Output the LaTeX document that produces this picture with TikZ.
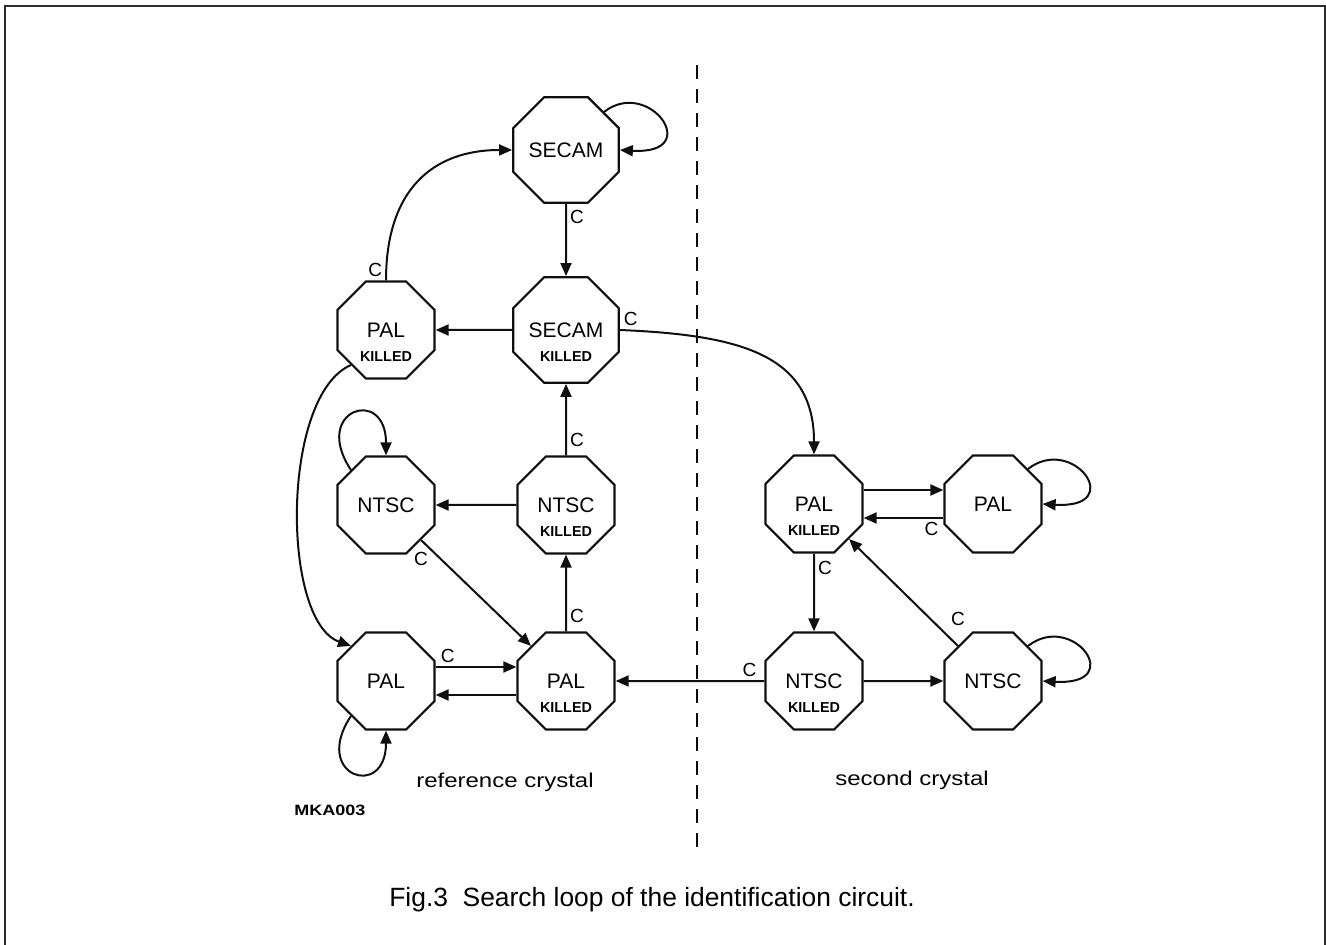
\documentclass[tikz,border=0pt]{standalone}
\usepackage{fontspec}
\setmainfont{Liberation Sans}
\newfontfamily\plotfont{Liberation Sans}
\newfontfamily\widefont[FakeStretch=1.2]{Liberation Sans}
\usepackage{xcolor}
\definecolor{Col1}{RGB}{15,15,15}
\definecolor{Col2}{RGB}{45,45,45}
\usepackage{tikz}
\usetikzlibrary{shapes.geometric}
\usetikzlibrary{arrows.meta}
\tikzstyle{State}=[regular polygon,regular polygon sides=8,draw=Col1,
line width=1.1pt,minimum size=52.5pt,inner sep=0pt,
font=\plotfont\fontsize{10.5}{12}\selectfont]
\tikzstyle{KilledText}=[font=\plotfont\bfseries\fontsize{7.2}{8}\selectfont,
inner sep=0pt]
\tikzstyle{Killed}=[label={[KilledText,yshift=-13.5pt]center:KILLED}]
\tikzstyle{Edge}=[draw=Col1,line width=1pt,-{Triangle[length=6.5pt,width=5.5pt]}]
\tikzstyle{Loop}=[Edge,line cap=round]
\tikzstyle{NodeC}=[font=\plotfont\fontsize{9.5}{11}\selectfont,inner sep=1.5pt]
\tikzstyle{Divider}=[draw=Col1,line width=0.8pt,dash pattern=on 7pt off 5pt]
\tikzstyle{Region}=[font=\widefont\fontsize{10}{12}\selectfont]

\begin{document}
\begin{tikzpicture}[x=0.5pt,y=-0.5pt]
    \useasboundingbox (0,0) rectangle (1326,945);
    \draw[draw=Col2,line width=1pt](5,946)--(5,6)--(1325,6)--(1325,946);
    % reference crystal
    \node[State](secam)at(566,150){SECAM};
    \node[State,Killed](secamk)at(566,330){SECAM};
    \node[State,Killed](palkA)at(386,330){PAL};
    \node[State](ntscA)at(386,505){NTSC};
    \node[State,Killed](ntsck)at(566,505){NTSC};
    \node[State](palA)at(386,681){PAL};
    \node[State,Killed](palkB)at(566,681){PAL};
    % second crystal
    \node[State,Killed](palkC)at(814,504){PAL};
    \node[State](palC)at(993,504){PAL};
    \node[State,Killed](ntsckC)at(814,681){NTSC};
    \node[State](ntscC)at(993,681){NTSC};
    \draw[Loop](secam.45)..controls+(45,-35)and+(85,5)..(secam.east);
    \draw[Edge](secam)--node[NodeC,right,pos=.18]{C}(secamk);
    \draw[Edge](palkA.north)..controls+(0,-90)and+(-80,0)..(secam.west)
        node[NodeC,at start,above left]{C};
    \draw[Edge](secamk)--(palkA);
    \draw[Edge](secamk.east)..controls+(120,5)and+(0,-100)..(palkC.north)
        node[NodeC,at start,above right]{C};
    \draw[Edge](palkA.225)..controls+(-70,30)and+(-70,-25)..(palA.135);
    \draw[Edge](ntsck)--node[NodeC,right,pos=.22]{C}(secamk);
    \draw[Edge](ntsck)--(ntscA);
    \draw[Loop](ntscA.135)..controls+(-40,-60)and+(0,-70)..(ntscA.north);
    \draw[Edge](ntscA.-45)--(palkB.135)node[NodeC,at start,below=4pt]{C};
    \draw[Edge](palkB)--node[NodeC,right,pos=.2]{C}(ntsck);
    \draw[Edge]([yshift=7pt]palA.east)--node[NodeC,above,pos=.15]{C}
        ([yshift=7pt]palkB.west);
    \draw[Edge]([yshift=-7pt]palkB.west)--([yshift=-7pt]palA.east);
    \draw[Loop](palA.225)..controls+(-40,60)and+(0,70)..(palA.south);
    \draw[Edge](ntsckC)--node[NodeC,above,pos=.1]{C}(palkB);
    \draw[Edge](palkC)--node[NodeC,right,pos=.18]{C}(ntsckC);
    \draw[Edge]([yshift=7pt]palkC.east)--([yshift=7pt]palC.west);
    \draw[Edge]([yshift=-7pt]palC.west)--node[NodeC,below,pos=.15]{C}
        ([yshift=-7pt]palkC.east);
    \draw[Loop](palC.45)..controls+(45,-35)and+(85,5)..(palC.east);
    \draw[Edge](ntsckC)--(ntscC);
    \draw[Edge](ntscC.135)--(palkC.-45)node[NodeC,at start,above=8pt]{C};
    \draw[Loop](ntscC.45)..controls+(45,-35)and+(85,5)..(ntscC.east);
    % divider and texts
    \coordinate(dtop)at(697,65);
    \coordinate(dbot)at(697,848);
    \draw[Divider](dtop)--(dbot);
    \node[Region](refx)at(505,782){reference crystal};
    \node[Region](secx)at(912,780){second crystal};
    \node[font=\widefont\bfseries\fontsize{7.5}{9}\selectfont](mka)at(330,810)
        {MKA003};
    \node[font=\fontsize{13.2}{15}\selectfont](cap)at(652,900)
        {Fig.3\ \ Search loop of the identification circuit.};
\end{tikzpicture}
\end{document}
